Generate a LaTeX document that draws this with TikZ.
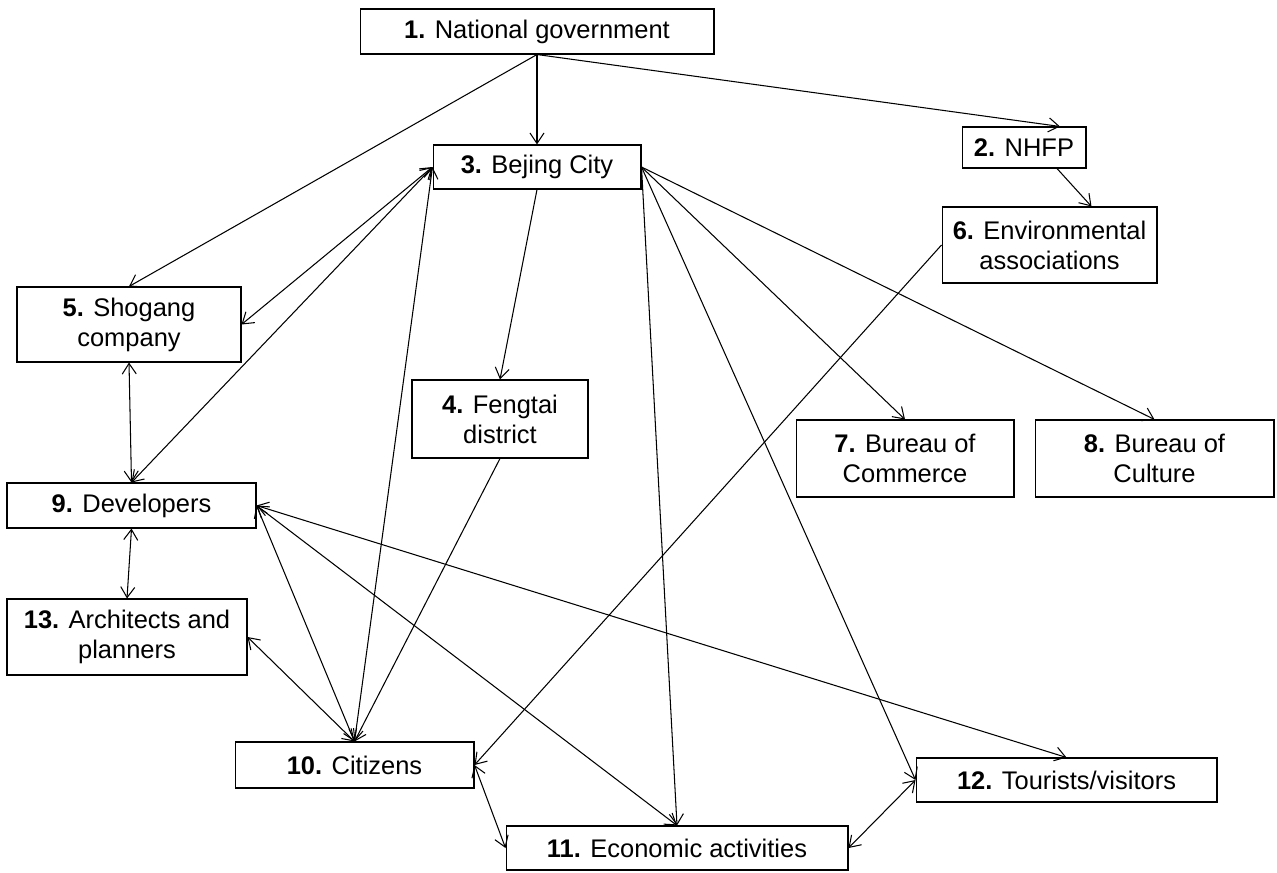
\documentclass[tikz,border=0pt]{standalone}
\usepackage{fontspec}
\setmainfont{Liberation Sans}
\usepackage{tikz}
\usetikzlibrary{arrows.meta, positioning}

\begin{document}
\begin{tikzpicture}[
    x=0.02cm, y=-0.02cm,
    box/.style={rectangle, draw, line width=0.6pt, align=center, inner sep=2pt, font=\fontsize{14.5}{17}\selectfont},
    arrow/.style={-{Straight Barb[length=6pt, width=8pt]}, line width=0.6pt},
    twoway/.style={{Straight Barb[length=6pt, width=8pt]}-{Straight Barb[length=6pt, width=8pt]}, line width=0.6pt}
]
    \useasboundingbox (0,0) rectangle (1277,872);

    % Government level
    \node[box, minimum width=7.08cm, minimum height=0.9cm] (gov) at (537,31.5) {\textbf{1.} National government};
    \node[box, minimum width=2.48cm, minimum height=0.82cm] (nhfp) at (1024,147.5) {\textbf{2.} NHFP};
    \node[box, minimum width=4.16cm, minimum height=0.88cm] (city) at (537,167) {\textbf{3.} Bejing City};
    \node[box, minimum width=3.52cm, minimum height=1.56cm] (fengtai) at (500,419) {\textbf{4.} Fengtai\\district};
    \node[box, minimum width=4.48cm, minimum height=1.5cm] (shougang) at (129,324.5) {\textbf{5.} Shogang\\company};
    \node[box, minimum width=4.3cm, minimum height=1.52cm] (env) at (1049.5,245) {\textbf{6.} Environmental\\associations};
    \node[box, minimum width=4.36cm, minimum height=1.54cm] (commerce) at (905,458.5) {\textbf{7.} Bureau of\\Commerce};
    \node[box, minimum width=4.78cm, minimum height=1.54cm] (culture) at (1154.5,458.5) {\textbf{8.} Bureau of\\Culture};

    % Actors
    \node[box, minimum width=4.98cm, minimum height=0.9cm] (dev) at (131.5,505.5) {\textbf{9.} Developers};
    \node[box, minimum width=4.8cm, minimum height=1.52cm] (arch) at (127,637) {\textbf{13.} Architects and\\planners};
    \node[box, minimum width=4.78cm, minimum height=0.92cm] (citizens) at (354.5,765) {\textbf{10.} Citizens};
    \node[box, minimum width=6.84cm, minimum height=0.88cm] (econ) at (677,848) {\textbf{11.} Economic activities};
    \node[box, minimum width=6.02cm, minimum height=0.88cm] (tourists) at (1066.5,780) {\textbf{12.} Tourists/visitors};

    % One-way links
    \draw[arrow] (gov.south) -- (city.north);
    \draw[arrow] (gov.south) -- (shougang.north);
    \draw[arrow] (gov.south) -- ([xshift=0.72cm]nhfp.north);
    \draw[arrow] ([xshift=0.66cm]nhfp.south) -- ([xshift=0.84cm]env.north);
    \draw[arrow] (city.south) -- (fengtai.north);
    \draw[arrow] (city.east) -- (commerce.north);
    \draw[arrow] (city.east) -- (culture.north);
    \draw[arrow] (city.east) -- (econ.north);
    \draw[arrow] (city.east) -- (tourists.west);
    \draw[arrow] (env.west) -- (citizens.east);
    \draw[arrow] (fengtai.south) -- (citizens.north);

    % Two-way links
    \draw[twoway] (city.west) -- (shougang.east);
    \draw[twoway] (city.west) -- (dev.north);
    \draw[twoway] (city.west) -- (citizens.north);
    \draw[twoway] (shougang.south) -- (dev.north);
    \draw[twoway] (dev.south) -- (arch.north);
    \draw[twoway] (dev.east) -- (citizens.north);
    \draw[twoway] (dev.east) -- (econ.north);
    \draw[twoway] (dev.east) -- (tourists.north);
    \draw[twoway] (arch.east) -- (citizens.north);
    \draw[twoway] (citizens.east) -- (econ.west);
    \draw[twoway] (econ.east) -- (tourists.west);

\end{tikzpicture}
\end{document}
